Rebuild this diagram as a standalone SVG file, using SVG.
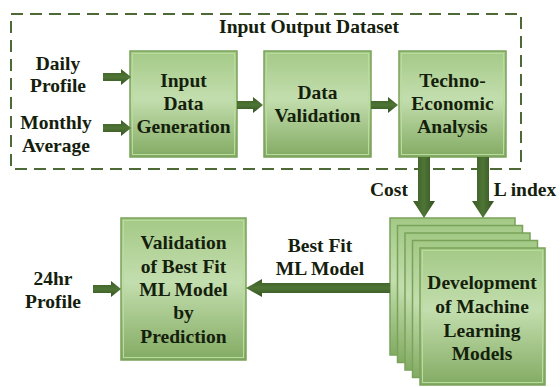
<svg xmlns="http://www.w3.org/2000/svg" width="560" height="387" viewBox="0 0 560 387">
<defs>
<linearGradient id="gb" x1="0" y1="0" x2="0" y2="1">
<stop offset="0" stop-color="#a3c986"/>
<stop offset="0.45" stop-color="#c3deae"/>
<stop offset="1" stop-color="#83ab63"/>
</linearGradient>
<linearGradient id="ah" x1="0" y1="0" x2="0" y2="1">
<stop offset="0" stop-color="#3a5a24"/>
<stop offset="0.5" stop-color="#4f7536"/>
<stop offset="1" stop-color="#33511f"/>
</linearGradient>
<linearGradient id="av" x1="0" y1="0" x2="1" y2="0">
<stop offset="0" stop-color="#3a5a24"/>
<stop offset="0.5" stop-color="#4f7536"/>
<stop offset="1" stop-color="#33511f"/>
</linearGradient>
</defs>
<style>
.box{fill:url(#gb);stroke:#7aa25a;stroke-width:1.5}
.inner{fill:none;stroke:#b9db9d;stroke-width:1}
.t{font-family:"Liberation Serif","Times New Roman",serif;font-weight:bold;font-size:19.5px;fill:#14200c;text-anchor:middle}
.ah{fill:url(#ah)}
.av{fill:url(#av)}
.dash{fill:none;stroke:#4d6a36;stroke-width:2;stroke-dasharray:12 7}
</style>
<rect x="0" y="0" width="560" height="387" fill="#ffffff"/>
<g id="dataset">
<rect class="dash" x="11" y="14" width="510" height="155"/>
<text class="t" x="309" y="33">Input Output Dataset</text>
</g>
<g id="label-daily">
<text class="t" x="58" y="70">Daily</text>
<text class="t" x="58" y="92">Profile</text>
</g>
<g id="label-monthly">
<text class="t" x="56" y="129">Monthly</text>
<text class="t" x="56" y="152">Average</text>
</g>
<g id="input-data-generation">
<rect class="box" x="130" y="51" width="107" height="106"/>
<rect class="inner" x="132.5" y="53.5" width="102" height="101"/>
<text class="t" x="183.5" y="87">Input</text>
<text class="t" x="183.5" y="110">Data</text>
<text class="t" x="183.5" y="133">Generation</text>
</g>
<g id="data-validation">
<rect class="box" x="264" y="51" width="107" height="106"/>
<rect class="inner" x="266.5" y="53.5" width="102" height="101"/>
<text class="t" x="317.5" y="99">Data</text>
<text class="t" x="317.5" y="122">Validation</text>
</g>
<g id="techno-economic-analysis">
<rect class="box" x="399" y="51" width="107" height="106"/>
<rect class="inner" x="401.5" y="53.5" width="102" height="101"/>
<text class="t" x="452.5" y="87">Techno-</text>
<text class="t" x="452.5" y="110">Economic</text>
<text class="t" x="452.5" y="133">Analysis</text>
</g>
<g id="label-cost"><text class="t" x="389" y="196">Cost</text></g>
<g id="label-lindex"><text class="t" x="525" y="196">L index</text></g>
<g id="ml-models">
<rect class="box" x="390" y="218" width="125" height="137"/>
<rect class="box" x="397.5" y="225.5" width="125" height="137"/>
<rect class="box" x="405" y="233" width="125" height="137"/>
<rect class="box" x="412.5" y="240.5" width="125" height="137"/>
<rect class="box" x="420" y="248" width="125" height="137"/>
<rect class="inner" x="422.5" y="250.5" width="120" height="132"/>
<text class="t" x="482" y="289">Development</text>
<text class="t" x="482" y="313">of Machine</text>
<text class="t" x="482" y="337">Learning</text>
<text class="t" x="482" y="360">Models</text>
</g>
<g id="label-bestfit">
<text class="t" x="320" y="252">Best Fit</text>
<text class="t" x="320" y="275">ML Model</text>
</g>
<g id="validation-prediction">
<rect class="box" x="121" y="218" width="125" height="142"/>
<rect class="inner" x="123.5" y="220.5" width="120" height="137"/>
<text class="t" x="183.5" y="249">Validation</text>
<text class="t" x="183.5" y="273">of Best Fit</text>
<text class="t" x="183.5" y="296">ML Model</text>
<text class="t" x="183.5" y="319">by</text>
<text class="t" x="183.5" y="343">Prediction</text>
</g>
<g id="label-24hr">
<text class="t" x="53" y="285">24hr</text>
<text class="t" x="53" y="308">Profile</text>
</g>
<g id="connectors">
<polygon class="ah" points="103,73 121,73 121,69 131,77 121,85 121,81 103,81"/>
<polygon class="ah" points="103,124 121,124 121,120 131,128 121,136 121,132 103,132"/>
<polygon class="ah" points="237,101 253,101 253,97 263,105 253,113 253,109 237,109"/>
<polygon class="ah" points="371,101 388,101 388,97 398,105 388,113 388,109 371,109"/>
<polygon class="av" points="418,157 430,157 430,201 435,201 424,218 413,201 418,201"/>
<polygon class="av" points="477,157 489,157 489,201 494,201 483,218 472,201 477,201"/>
<polygon class="ah" points="390,283 262,283 262,279 246,288 262,297 262,293 390,293"/>
<polygon class="ah" points="93,285 111,285 111,281 121,289 111,297 111,293 93,293"/>
</g>
</svg>
